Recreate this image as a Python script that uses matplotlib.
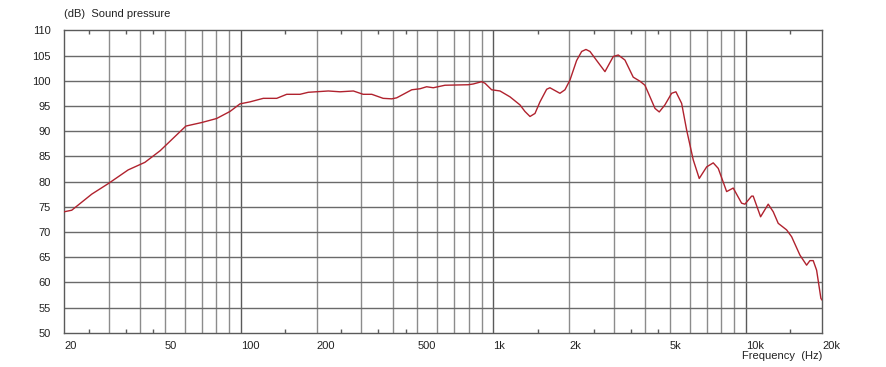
import matplotlib
matplotlib.use('Agg')
import matplotlib.pyplot as plt
from matplotlib.ticker import NullFormatter

plt.rcParams['font.family'] = ['Liberation Sans', 'DejaVu Sans']

# Частотная характеристика
freq = [20, 21.4, 25.7, 29.9, 35.8, 41.7, 47.9, 54.0, 60.6, 70.0, 80.2, 90.6,
        99.2, 108.7, 122.7, 138.7, 151.9, 171.5, 184.9, 222, 247, 279, 305,
        330, 366, 396, 414, 475, 512, 544, 578, 643, 715, 795, 832, 898, 926,
        984, 1062, 1163, 1274, 1333, 1396, 1461, 1529, 1625, 1674, 1834, 1920,
        2009, 2135, 2236, 2325, 2412, 2564, 2765, 2983, 3122, 3317, 3578, 3803,
        3981, 4168, 4363, 4536, 4776, 5077, 5280, 5563, 5823, 6183, 6531, 6988,
        7420, 7767, 8384, 8903, 9609, 9904, 10528, 10682, 11427, 12248, 12820,
        13418, 14484, 15160, 16353, 17380, 17913, 18461, 19041, 19802, 20000]
spl = [74.0, 74.3, 77.5, 79.6, 82.3, 83.8, 86.1, 88.6, 91.0, 91.7, 92.5, 93.9,
       95.4, 95.8, 96.5, 96.5, 97.3, 97.3, 97.7, 97.96, 97.8, 97.96, 97.3,
       97.3, 96.5, 96.4, 96.6, 98.2, 98.4, 98.8, 98.6, 99.1, 99.15, 99.2, 99.35,
       99.8, 99.5, 98.2, 97.96, 96.8, 95.2, 93.9, 92.9, 93.5, 95.8, 98.3, 98.6,
       97.5, 98.2, 100.1, 104.0, 105.8, 106.2, 105.8, 104.0, 101.8, 104.8,
       105.1, 104.1, 100.7, 99.9, 99.1, 96.8, 94.5, 93.8, 95.2, 97.5, 97.8,
       95.5, 90.2, 84.3, 80.6, 82.9, 83.7, 82.6, 78.0, 78.7, 75.7, 75.5, 77.1,
       77.1, 73.0, 75.5, 74.0, 71.7, 70.4, 69.05, 65.4, 63.4, 64.3, 64.3, 62.4,
       56.8, 56.5]

x_ticks = [20, 50, 100, 200, 500, 1000, 2000, 5000, 10000, 20000]
x_labels = ['20', '50', '100', '200', '500', '1k', '2k', '5k', '10k', '20k']
y_ticks = list(range(50, 111, 5))
minor_ticks = [25, 35, 45, 150, 250, 350, 450, 1500, 2500, 3500, 4500, 15000]
grid_light = [30, 40, 50, 60, 70, 80, 90, 200, 300, 400, 500, 600, 700, 800,
              900, 2000, 3000, 4000, 5000, 6000, 7000, 8000, 9000]
grid_dark = [100, 1000, 10000]

fig = plt.figure(figsize=(8.86, 3.67), dpi=100)
ax = fig.add_axes([64.3 / 886, 1 - 332.7 / 367, (822 - 64.3) / 886, (332.7 - 30.3) / 367])

ax.set_xscale('log')
ax.set_xlim(20, 20000)
ax.set_ylim(50, 110)

# сетка
for f in grid_light:
    ax.axvline(f, color='#8c8c8c', lw=1.0, zorder=1)
for f in grid_dark:
    ax.axvline(f, color='#5a5a5a', lw=1.0, zorder=1)
for y in y_ticks[1:-1]:
    ax.axhline(y, color='#6a6a6a', lw=1.0, zorder=1)

ax.plot(freq, spl, color='#b0222e', lw=1.0, zorder=3)

ax.set_xticks(x_ticks)
ax.set_xticklabels(x_labels, fontsize=8, ha='left', color='#222222')
ax.set_xticks(minor_ticks, minor=True)
ax.xaxis.set_minor_formatter(NullFormatter())
ax.tick_params(axis='x', which='major', length=0, pad=6)
ax.tick_params(axis='x', which='minor', length=3, direction='in', top=True,
               color='#5a5a5a', width=1)
ax.set_yticks(y_ticks)
ax.set_yticklabels([str(v) for v in y_ticks], fontsize=8, color='#222222')
ax.tick_params(axis='y', length=0, pad=10)

for s in ax.spines.values():
    s.set_color('#5a5a5a')
    s.set_linewidth(1.0)

fig.text(64 / 886, 1 - 14 / 367, '(dB)  Sound pressure', fontsize=8,
         ha='left', va='center', color='#222222')
fig.text(822 / 886, 1 - 356 / 367, 'Frequency  (Hz)', fontsize=8,
         ha='right', va='center', color='#222222')

plt.savefig('out.png', dpi=100)
